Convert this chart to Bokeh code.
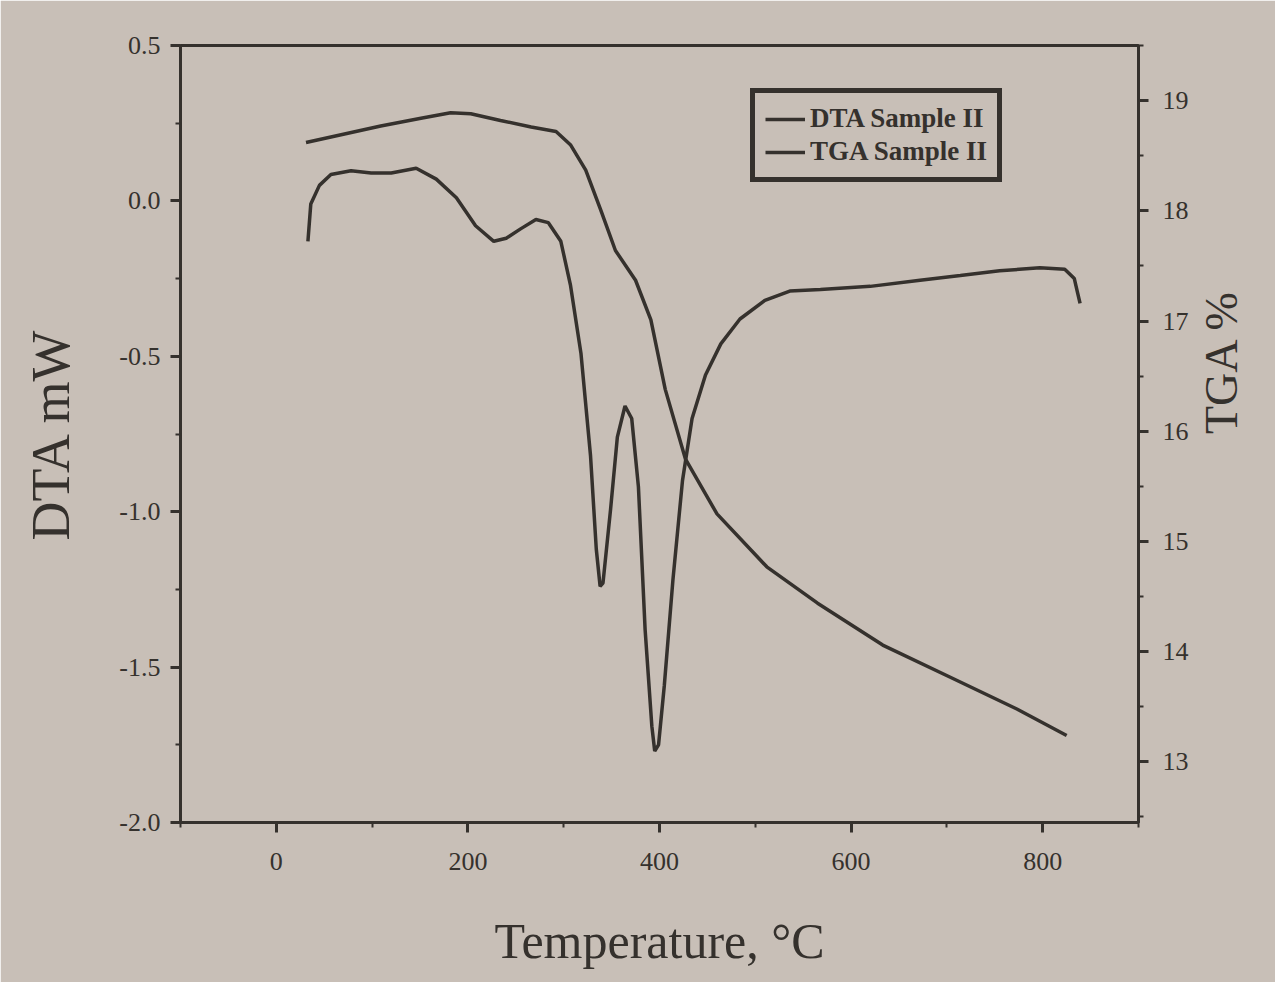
import math
from bokeh.plotting import figure
from bokeh.models import Range1d, LinearAxis, Legend, LegendItem, FixedTicker
from bokeh.embed import file_html
from bokeh.resources import INLINE

# DTA curve (left axis, mW)
dta_temp = [33, 36, 45, 57, 78, 99, 120, 146, 167, 188, 208, 227, 240, 255, 271, 284,
            297, 307, 318, 328, 334, 338, 341, 349, 356, 364, 371, 378, 385, 392, 395,
            399, 405, 414, 424, 434, 448, 464, 484, 510, 536, 568, 620, 672, 714, 755,
            797, 823, 833, 836, 839]
dta_mw = [-0.13, -0.01, 0.05, 0.085, 0.097, 0.09, 0.09, 0.105, 0.07, 0.01, -0.08, -0.13,
          -0.12, -0.09, -0.06, -0.07, -0.13, -0.27, -0.49, -0.82, -1.12, -1.24, -1.23,
          -0.99, -0.76, -0.66, -0.70, -0.92, -1.38, -1.69, -1.77, -1.75, -1.56, -1.22,
          -0.90, -0.70, -0.56, -0.46, -0.38, -0.32, -0.29, -0.285, -0.275, -0.255, -0.24,
          -0.225, -0.215, -0.22, -0.25, -0.29, -0.33]

# TGA curve (right axis, %)
tga_temp = [31, 57, 109, 151, 182, 203, 234, 266, 292, 307, 323, 339, 354, 375, 391, 406,
            427, 460, 512, 565, 633, 703, 773, 825]
tga_pct = [18.62, 18.67, 18.77, 18.84, 18.89, 18.88, 18.82, 18.76, 18.72, 18.60, 18.37,
           18.0, 17.64, 17.37, 17.01, 16.38, 15.75, 15.25, 14.77, 14.44, 14.06, 13.77,
           13.48, 13.24]

x_ticks = [0, 200, 400, 600, 800]
left_ticks = [-2.0, -1.5, -1.0, -0.5, 0.0, 0.5]
right_ticks = [13, 14, 15, 16, 17, 18, 19]

BG = "#c8bfb7"
INK = "#35312d"
FONT = "Liberation Serif"

p = figure(width=1275, height=982, output_backend="svg", toolbar_location=None,
           x_range=Range1d(-100, 900), y_range=Range1d(-2.0, 0.5),
           min_border_left=180, min_border_right=135, min_border_top=45,
           min_border_bottom=160)
p.extra_y_ranges = {"tga": Range1d(12.45, 19.5)}

p.background_fill_color = BG
p.border_fill_color = BG
p.outline_line_color = INK
p.outline_line_width = 3
p.grid.visible = False

r_dta = p.line(dta_temp, dta_mw, line_color=INK, line_width=3.5)
r_tga = p.line(tga_temp, tga_pct, line_color=INK, line_width=3.5, y_range_name="tga")

right = LinearAxis(y_range_name="tga")
p.add_layout(right, "right")

p.xaxis.ticker = FixedTicker(ticks=x_ticks, minor_ticks=[-100, 100, 300, 500, 700, 900])
p.yaxis[0].ticker = FixedTicker(ticks=left_ticks,
                                minor_ticks=[-1.75, -1.25, -0.75, -0.25, 0.25])
right.ticker = FixedTicker(ticks=right_ticks,
                           minor_ticks=[12.5, 13.5, 14.5, 15.5, 16.5, 17.5, 18.5, 19.5])
p.yaxis[0].major_label_overrides = {-2.0: "-2.0", -1.5: "-1.5", -1.0: "-1.0",
                                    -0.5: "-0.5", 0.0: "0.0", 0.5: "0.5"}

for ax in p.axis:
    ax.axis_line_color = INK
    ax.axis_line_width = 3
    ax.major_tick_line_color = INK
    ax.major_tick_line_width = 3
    ax.minor_tick_line_color = INK
    ax.minor_tick_line_width = 2
    ax.major_tick_out = 10
    ax.major_tick_in = 0
    ax.minor_tick_out = 5
    ax.minor_tick_in = 0
    ax.major_label_text_font = FONT
    ax.major_label_text_font_size = "26px"
    ax.major_label_text_color = INK
    ax.axis_label_text_font = FONT
    ax.axis_label_text_font_style = "normal"
    ax.axis_label_text_color = INK

p.xaxis.axis_label = "Temperature, °C"
p.xaxis.axis_label_text_font_size = "50px"
p.xaxis.major_label_standoff = 20
p.xaxis.axis_label_standoff = 40

p.yaxis[0].axis_label = "DTA mW"
p.yaxis[0].axis_label_text_font_size = "54px"
p.yaxis[0].major_label_standoff = 10
p.yaxis[0].axis_label_standoff = 35

right.major_label_standoff = 14

# a bare axis that only carries the right-hand title, bounded so the title sits lower
title_axis = LinearAxis(y_range_name="tga", bounds=(12.45, 17.84),
                        ticker=FixedTicker(ticks=[]), axis_line_alpha=0,
                        major_tick_line_alpha=0, minor_tick_line_alpha=0,
                        axis_label="TGA %", axis_label_text_font=FONT,
                        axis_label_text_font_size="46px",
                        axis_label_text_font_style="normal",
                        axis_label_text_color=INK,
                        axis_label_orientation=math.pi / 2,
                        axis_label_standoff=30)
p.add_layout(title_axis, "right")

legend = Legend(items=[LegendItem(label="DTA Sample II", renderers=[r_dta]),
                       LegendItem(label="TGA Sample II", renderers=[r_tga])],
                location=(570, 640))
legend.label_text_font = FONT
legend.label_text_font_size = "27px"
legend.label_text_font_style = "bold"
legend.label_text_color = INK
legend.border_line_color = INK
legend.border_line_alpha = 1.0
legend.border_line_width = 5
legend.background_fill_color = BG
legend.background_fill_alpha = 1.0
legend.glyph_width = 40
legend.label_height = 30
legend.spacing = 2
legend.padding = 10
legend.margin = 0
p.add_layout(legend)

open("out.html", "w").write(file_html(p, INLINE))
